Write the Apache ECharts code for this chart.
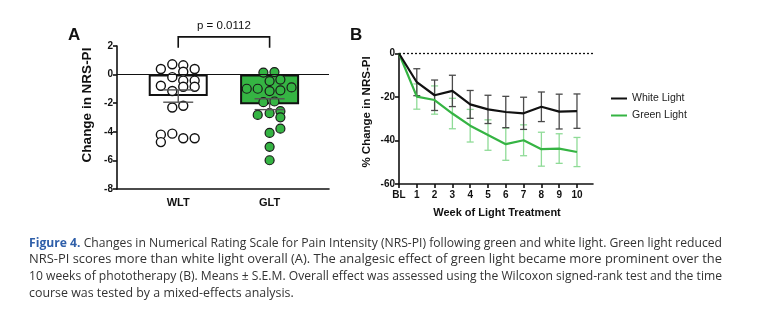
<!DOCTYPE html>
<html>
<head>
<meta charset="utf-8">
<script src="https://cdn.jsdelivr.net/npm/echarts@6/dist/echarts.min.js"></script>
<style>
  html, body { margin: 0; padding: 0; background: #fff; }
  #chart { width: 760px; height: 327px; }
</style>
</head>
<body>
<div id="chart"></div>
<script>
// ---- Panel A: change in NRS-PI per participant ----
const groupNames = ['WLT', 'GLT'];
const groupMeans = [-1.50, -2.07];
const groupSem = [0.43, 0.38];
const wltValues = [0.39, 0.72, 0.65, 0.20, 0.39, -0.18, -0.42, -0.42, -0.78, -0.85, -0.85, -1.15, -2.30, -2.18, -4.20, -4.72, -4.13, -4.45, -4.45];
const wltJitter = [-0.19, -0.065, 0.055, 0.055, 0.18, -0.065, 0.055, 0.18, -0.19, 0.055, 0.18, -0.065, -0.065, 0.055, -0.19, -0.19, -0.065, 0.055, 0.18];
const gltValues = [0.14, 0.18, -0.45, -0.35, -0.99, -0.99, -1.15, -1.10, -0.90, -1.93, -1.88, -2.82, -2.70, -2.56, -2.99, -3.78, -4.08, -5.05, -5.99];
const gltJitter = [-0.068, 0.053, 0, 0.118, -0.25, -0.13, 0, 0.118, 0.24, -0.068, 0.053, -0.13, 0, 0.118, 0.118, 0.118, 0, 0, 0];
const pValueText = 'p = 0.0112';

// ---- Panel B: % change in NRS-PI over weeks ----
const weekNumbers = [0, 1, 2, 3, 4, 5, 6, 7, 8, 9, 10];
const weekLabels = ['BL', '1', '2', '3', '4', '5', '6', '7', '8', '9', '10'];
const whiteMean = [0, -13.2, -19.2, -17.2, -23.4, -25.7, -26.9, -27.5, -24.5, -26.7, -26.5];
const whiteSem  = [0, 6.2, 7.0, 7.2, 6.4, 6.5, 7.2, 7.4, 6.8, 8.0, 7.9];
const greenMean = [0, -19.8, -21.4, -27.6, -33.2, -37.5, -41.7, -39.9, -44.0, -43.7, -45.3];
const greenSem  = [0, 5.8, 6.5, 7.0, 7.5, 7.0, 7.4, 7.1, 7.8, 6.8, 6.7];
const seriesNames = ['White Light', 'Green Light'];

// ---- Caption ----
const captionLead = 'Figure 4.';
const captionLines = [
  ' Changes in Numerical Rating Scale for Pain Intensity (NRS-PI) following green and white light. Green light reduced',
  'NRS-PI scores more than white light overall (A). The analgesic effect of green light became more prominent over the',
  '10 weeks of phototherapy (B). Means \u00b1 S.E.M. Overall effect was assessed using the Wilcoxon signed-rank test and the time',
  'course was tested by a mixed-effects analysis.'
];

const AXIS_FONT = 'Liberation Sans, Arial, sans-serif';
const GREEN = '#35b443';
const GREEN_LIGHT = '#8fdb97';

const chart = echarts.init(document.getElementById('chart'), null, { renderer: 'canvas' });

// vertical error bar with caps
function errorBar(color, capHalf, width) {
  return function (params, api) {
    const x = api.value(0), lo = api.value(1), hi = api.value(2);
    if (lo === hi) return null;
    const a = api.coord([x, hi]);
    const b = api.coord([x, lo]);
    const style = { stroke: color, lineWidth: width };
    return {
      type: 'group',
      children: [
        { type: 'line', shape: { x1: a[0], y1: a[1], x2: b[0], y2: b[1] }, style },
        { type: 'line', shape: { x1: a[0] - capHalf, y1: a[1], x2: a[0] + capHalf, y2: a[1] }, style },
        { type: 'line', shape: { x1: b[0] - capHalf, y1: b[1], x2: b[0] + capHalf, y2: b[1] }, style }
      ]
    };
  };
}

// significance bracket between the two groups
function bracket(params, api) {
  const p1 = api.coord([api.value(0), api.value(2)]);
  const p2 = api.coord([api.value(1), api.value(2)]);
  const legY = api.coord([api.value(0), api.value(3)])[1];
  return {
    type: 'group',
    children: [
      { type: 'polyline', shape: { points: [[p1[0], legY], [p1[0], p1[1]], [p2[0], p2[1]], [p2[0], legY]] },
        style: { stroke: '#111', lineWidth: 1.6, fill: null } },
      { type: 'text', x: (p1[0] + p2[0]) / 2, y: p1[1] - 11,
        style: { text: pValueText, fill: '#111', font: '11.5px ' + AXIS_FONT, align: 'center', verticalAlign: 'middle' } }
    ]
  };
}

function axisCommon() {
  return {
    axisLine: { show: true, onZero: false, lineStyle: { color: '#111', width: 1.6 } },
    axisTick: { show: true, inside: false, length: 4, lineStyle: { color: '#111', width: 1.6 } },
    axisLabel: { color: '#111', fontWeight: 'bold', fontSize: 10, fontFamily: AXIS_FONT, margin: 4 },
    splitLine: { show: false }
  };
}

// caption: each line set in a humanist face, compressed horizontally to the text block width
const measureCtx = document.createElement('canvas').getContext('2d');
const CAPTION_FAMILY = '"Open Sans", "Noto Sans", sans-serif';
const CAPTION_SIZE = 13;
const captionLeft = 29, captionRight = 722, captionTop = 243, captionStep = 16.6;
const captionGraphics = [];
const lineSegments = captionLines.map((line, li) => {
  const segs = [];
  if (li === 0) segs.push({ text: captionLead, font: 'bold ' + CAPTION_SIZE + 'px ' + CAPTION_FAMILY, fill: '#2f5fa9' });
  segs.push({ text: line, font: CAPTION_SIZE + 'px ' + CAPTION_FAMILY, fill: '#333' });
  segs.forEach(s => { measureCtx.font = s.font; s.width = measureCtx.measureText(s.text).width; });
  return segs;
});
const scales = lineSegments.map(segs => (captionRight - captionLeft) / segs.reduce((t, s) => t + s.width, 0));
const justified = scales.slice(0, scales.length - 1);
const meanScale = justified.reduce((t, v) => t + v, 0) / justified.length;
lineSegments.forEach((segs, li) => {
  const sx = li < lineSegments.length - 1 ? scales[li] : meanScale;
  let x = captionLeft;
  segs.forEach(s => {
    captionGraphics.push({
      type: 'text', x: x, y: captionTop + li * captionStep, scaleX: sx, silent: true,
      style: { text: s.text, font: s.font, fill: s.fill, align: 'left', verticalAlign: 'middle' }
    });
    x += s.width * sx;
  });
});

const option = {
  animation: false,
  backgroundColor: '#fff',
  grid: [
    { left: 117, top: 46, width: 212, height: 143 },
    { left: 399, top: 53.5, width: 194, height: 130.5 }
  ],
  xAxis: [
    Object.assign(axisCommon(), {
      type: 'value', gridIndex: 0, min: 0.33, max: 2.65,
      axisTick: { show: false },
      axisLabel: Object.assign(axisCommon().axisLabel, {
        fontSize: 11, margin: 8, customValues: [1, 2],
        formatter: v => groupNames[Math.round(v) - 1] || ''
      })
    }),
    Object.assign(axisCommon(), {
      type: 'value', gridIndex: 1, min: 0, max: 10.9,
      axisTick: Object.assign(axisCommon().axisTick, { customValues: weekNumbers }),
      axisLabel: Object.assign(axisCommon().axisLabel, {
        margin: 6, customValues: weekNumbers,
        formatter: v => weekLabels[weekNumbers.indexOf(Math.round(v))] || ''
      })
    })
  ],
  yAxis: [
    Object.assign(axisCommon(), { type: 'value', gridIndex: 0, min: -8, max: 2, interval: 2 }),
    Object.assign(axisCommon(), { type: 'value', gridIndex: 1, min: -60, max: 0, interval: 20 })
  ],
  legend: {
    data: seriesNames,
    orient: 'vertical', left: 606, top: 88, itemWidth: 16, itemHeight: 2, itemGap: 6,
    icon: 'rect',
    textStyle: { color: '#222', fontSize: 10.5, fontFamily: AXIS_FONT }
  },
  series: [
    {
      type: 'bar', xAxisIndex: 0, yAxisIndex: 0, barWidth: 59, z: 2,
      data: groupMeans.map((m, i) => ({
        value: [i + 1, m],
        itemStyle: { color: i === 0 ? '#fff' : GREEN, borderColor: '#111', borderWidth: 2 }
      })),
      markLine: {
        silent: true, symbol: 'none', label: { show: false },
        lineStyle: { color: '#111', width: 1.2, type: 'solid' },
        data: [{ yAxis: 0 }]
      }
    },
    {
      type: 'scatter', xAxisIndex: 0, yAxisIndex: 0, symbolSize: 9, z: 3,
      itemStyle: { color: '#fff', borderColor: '#111', borderWidth: 1.4, opacity: 1 },
      data: wltValues.map((v, i) => [1 + wltJitter[i], v])
    },
    {
      type: 'scatter', xAxisIndex: 0, yAxisIndex: 0, symbolSize: 9, z: 3,
      itemStyle: { color: GREEN, borderColor: '#1a1a1a', borderWidth: 1.2, opacity: 1 },
      data: gltValues.map((v, i) => [2 + gltJitter[i], v])
    },
    {
      type: 'custom', xAxisIndex: 0, yAxisIndex: 0, z: 4,
      renderItem: errorBar('#555', 15, 1.4),
      data: groupMeans.map((m, i) => [i + 1, m - groupSem[i], m + groupSem[i]])
    },
    {
      type: 'custom', xAxisIndex: 0, yAxisIndex: 0, z: 4, clip: false,
      renderItem: bracket,
      data: [[1, 2, 2.64, 1.87]]
    },
    // panel B error bars
    {
      type: 'custom', xAxisIndex: 1, yAxisIndex: 1, z: 2,
      renderItem: errorBar(GREEN_LIGHT, 3.5, 1.3),
      data: weekNumbers.map((w, i) => [w, greenMean[i] - greenSem[i], greenMean[i] + greenSem[i]])
    },
    {
      type: 'custom', xAxisIndex: 1, yAxisIndex: 1, z: 3,
      renderItem: errorBar('#4a4a4a', 3.5, 1.3),
      data: weekNumbers.map((w, i) => [w, whiteMean[i] - whiteSem[i], whiteMean[i] + whiteSem[i]])
    },
    {
      name: seriesNames[1], type: 'line', xAxisIndex: 1, yAxisIndex: 1, z: 5,
      symbol: 'none', color: GREEN, lineStyle: { color: GREEN, width: 2.2 },
      data: weekNumbers.map((w, i) => [w, greenMean[i]])
    },
    {
      name: seriesNames[0], type: 'line', xAxisIndex: 1, yAxisIndex: 1, z: 6,
      symbol: 'none', color: '#111', lineStyle: { color: '#111', width: 2.2 },
      data: weekNumbers.map((w, i) => [w, whiteMean[i]]),
      markLine: {
        silent: true, symbol: 'none', label: { show: false },
        lineStyle: { color: '#111', width: 1.3, type: [2, 2] },
        data: [{ yAxis: 0 }]
      }
    }
  ],
  graphic: [
    { type: 'text', x: 68, y: 35, style: { text: 'A', font: 'bold 17px ' + AXIS_FONT, fill: '#111', verticalAlign: 'middle' } },
    { type: 'text', x: 350, y: 35, style: { text: 'B', font: 'bold 17px ' + AXIS_FONT, fill: '#111', verticalAlign: 'middle' } },
    { type: 'text', x: 87, y: 105, rotation: Math.PI / 2,
      style: { text: 'Change in NRS-PI', font: 'bold 13.5px ' + AXIS_FONT, fill: '#111', align: 'center', verticalAlign: 'middle' } },
    { type: 'text', x: 367, y: 112, rotation: Math.PI / 2,
      style: { text: '% Change in NRS-PI', font: 'bold 11.5px ' + AXIS_FONT, fill: '#111', align: 'center', verticalAlign: 'middle' } },
    { type: 'text', x: 497, y: 213,
      style: { text: 'Week of Light Treatment', font: 'bold 11px ' + AXIS_FONT, fill: '#111', align: 'center', verticalAlign: 'middle' } }
  ].concat(captionGraphics)
};

chart.setOption(option);
</script>
</body>
</html>
